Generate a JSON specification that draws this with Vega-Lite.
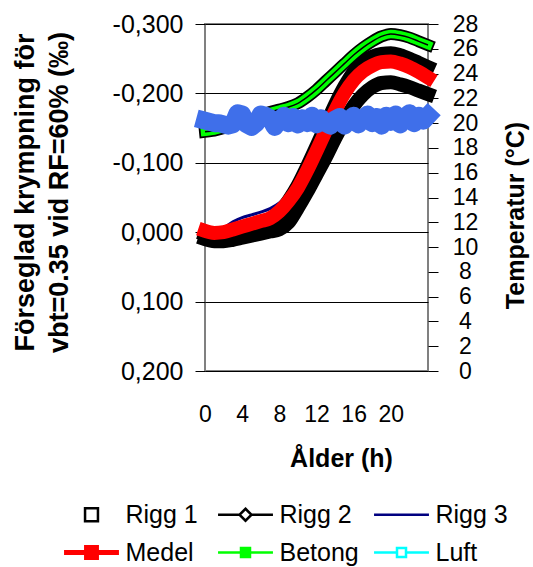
{
  "$schema": "https://vega.github.io/schema/vega-lite/v6.json",
  "width": 223,
  "height": 347,
  "autosize": {"type": "none"},
  "padding": {"left": 205, "top": 24, "right": 105, "bottom": 196},
  "config": {
    "font": "Liberation Sans",
    "view": {"stroke": "#808080", "strokeWidth": 2},
    "axis": {"labelColor": "#000", "titleColor": "#000", "tickColor": "#000", "labelFont": "Liberation Sans", "titleFont": "Liberation Sans"}
  },
  "datasets": {
    "krymp": [
      {"serie":"Rigg 1","t":0,"v":0.010},{"serie":"Rigg 1","t":1,"v":0.013},{"serie":"Rigg 1","t":2,"v":0.013},{"serie":"Rigg 1","t":3,"v":0.011},{"serie":"Rigg 1","t":4,"v":0.008},{"serie":"Rigg 1","t":5,"v":0.005},{"serie":"Rigg 1","t":6,"v":0.002},{"serie":"Rigg 1","t":7,"v":-0.001},{"serie":"Rigg 1","t":8,"v":-0.004},{"serie":"Rigg 1","t":9,"v":-0.014},{"serie":"Rigg 1","t":10,"v":-0.035},{"serie":"Rigg 1","t":11,"v":-0.058},{"serie":"Rigg 1","t":12,"v":-0.083},{"serie":"Rigg 1","t":13,"v":-0.108},{"serie":"Rigg 1","t":14,"v":-0.135},{"serie":"Rigg 1","t":15,"v":-0.160},{"serie":"Rigg 1","t":16,"v":-0.182},{"serie":"Rigg 1","t":17,"v":-0.198},{"serie":"Rigg 1","t":18,"v":-0.209},{"serie":"Rigg 1","t":19,"v":-0.215},{"serie":"Rigg 1","t":20,"v":-0.216},{"serie":"Rigg 1","t":21,"v":-0.213},{"serie":"Rigg 1","t":22,"v":-0.209},{"serie":"Rigg 1","t":23,"v":-0.204},{"serie":"Rigg 1","t":24,"v":-0.199},
      {"serie":"Rigg 2","t":0,"v":0.003},{"serie":"Rigg 2","t":1,"v":0.006},{"serie":"Rigg 2","t":2,"v":0.006},{"serie":"Rigg 2","t":3,"v":0.002},{"serie":"Rigg 2","t":4,"v":-0.002},{"serie":"Rigg 2","t":5,"v":-0.006},{"serie":"Rigg 2","t":6,"v":-0.010},{"serie":"Rigg 2","t":7,"v":-0.015},{"serie":"Rigg 2","t":8,"v":-0.028},{"serie":"Rigg 2","t":9,"v":-0.046},{"serie":"Rigg 2","t":10,"v":-0.068},{"serie":"Rigg 2","t":11,"v":-0.095},{"serie":"Rigg 2","t":12,"v":-0.124},{"serie":"Rigg 2","t":13,"v":-0.154},{"serie":"Rigg 2","t":14,"v":-0.184},{"serie":"Rigg 2","t":15,"v":-0.210},{"serie":"Rigg 2","t":16,"v":-0.231},{"serie":"Rigg 2","t":17,"v":-0.245},{"serie":"Rigg 2","t":18,"v":-0.253},{"serie":"Rigg 2","t":19,"v":-0.257},{"serie":"Rigg 2","t":20,"v":-0.258},{"serie":"Rigg 2","t":21,"v":-0.255},{"serie":"Rigg 2","t":22,"v":-0.250},{"serie":"Rigg 2","t":23,"v":-0.244},{"serie":"Rigg 2","t":24,"v":-0.238},
      {"serie":"Rigg 3","t":0,"v":-0.003},{"serie":"Rigg 3","t":1,"v":-0.002},{"serie":"Rigg 3","t":2,"v":-0.006},{"serie":"Rigg 3","t":3,"v":-0.015},{"serie":"Rigg 3","t":4,"v":-0.021},{"serie":"Rigg 3","t":5,"v":-0.025},{"serie":"Rigg 3","t":6,"v":-0.029},{"serie":"Rigg 3","t":7,"v":-0.034},{"serie":"Rigg 3","t":8,"v":-0.042},{"serie":"Rigg 3","t":9,"v":-0.055},{"serie":"Rigg 3","t":10,"v":-0.070},{"serie":"Rigg 3","t":11,"v":-0.091},{"serie":"Rigg 3","t":12,"v":-0.117},{"serie":"Rigg 3","t":13,"v":-0.146},{"serie":"Rigg 3","t":14,"v":-0.175},{"serie":"Rigg 3","t":15,"v":-0.199},{"serie":"Rigg 3","t":16,"v":-0.218},{"serie":"Rigg 3","t":17,"v":-0.231},{"serie":"Rigg 3","t":18,"v":-0.239},{"serie":"Rigg 3","t":19,"v":-0.244},{"serie":"Rigg 3","t":20,"v":-0.245},{"serie":"Rigg 3","t":21,"v":-0.242},{"serie":"Rigg 3","t":22,"v":-0.237},{"serie":"Rigg 3","t":23,"v":-0.230},{"serie":"Rigg 3","t":24,"v":-0.222},
      {"serie":"Medel","t":0,"v":-0.002},{"serie":"Medel","t":1,"v":0.001},{"serie":"Medel","t":2,"v":0.000},{"serie":"Medel","t":3,"v":-0.004},{"serie":"Medel","t":4,"v":-0.008},{"serie":"Medel","t":5,"v":-0.012},{"serie":"Medel","t":6,"v":-0.016},{"serie":"Medel","t":7,"v":-0.020},{"serie":"Medel","t":8,"v":-0.030},{"serie":"Medel","t":9,"v":-0.045},{"serie":"Medel","t":10,"v":-0.064},{"serie":"Medel","t":11,"v":-0.089},{"serie":"Medel","t":12,"v":-0.117},{"serie":"Medel","t":13,"v":-0.146},{"serie":"Medel","t":14,"v":-0.175},{"serie":"Medel","t":15,"v":-0.200},{"serie":"Medel","t":16,"v":-0.219},{"serie":"Medel","t":17,"v":-0.232},{"serie":"Medel","t":18,"v":-0.240},{"serie":"Medel","t":19,"v":-0.245},{"serie":"Medel","t":20,"v":-0.246},{"serie":"Medel","t":21,"v":-0.243},{"serie":"Medel","t":22,"v":-0.238},{"serie":"Medel","t":23,"v":-0.231},{"serie":"Medel","t":24,"v":-0.223}
    ],
    "temp": [
      {"serie":"Betong","t":0,"v":19.3},{"serie":"Betong","t":1,"v":19.4},{"serie":"Betong","t":2,"v":19.6},{"serie":"Betong","t":3,"v":19.8},{"serie":"Betong","t":4,"v":20.0},{"serie":"Betong","t":5,"v":20.3},{"serie":"Betong","t":6,"v":20.6},{"serie":"Betong","t":7,"v":20.9},{"serie":"Betong","t":8,"v":21.1},{"serie":"Betong","t":9,"v":21.3},{"serie":"Betong","t":10,"v":21.6},{"serie":"Betong","t":11,"v":22.1},{"serie":"Betong","t":12,"v":22.7},{"serie":"Betong","t":13,"v":23.4},{"serie":"Betong","t":14,"v":24.1},{"serie":"Betong","t":15,"v":24.8},{"serie":"Betong","t":16,"v":25.5},{"serie":"Betong","t":17,"v":26.1},{"serie":"Betong","t":18,"v":26.6},{"serie":"Betong","t":19,"v":27.0},{"serie":"Betong","t":20,"v":27.2},{"serie":"Betong","t":21,"v":27.1},{"serie":"Betong","t":22,"v":26.9},{"serie":"Betong","t":23,"v":26.6},{"serie":"Betong","t":24,"v":26.3},
      {"serie":"Luft","t":0,"v":20.2},{"serie":"Luft","t":0.5,"v":20.1},{"serie":"Luft","t":1,"v":20.0},{"serie":"Luft","t":1.5,"v":20.0},{"serie":"Luft","t":2,"v":19.9},{"serie":"Luft","t":2.5,"v":19.8},{"serie":"Luft","t":3,"v":19.9},{"serie":"Luft","t":3.5,"v":20.8},{"serie":"Luft","t":4,"v":20.7},{"serie":"Luft","t":4.5,"v":19.9},{"serie":"Luft","t":5,"v":19.7},{"serie":"Luft","t":5.5,"v":20.0},{"serie":"Luft","t":6,"v":20.7},{"serie":"Luft","t":6.5,"v":20.6},{"serie":"Luft","t":7,"v":20.4},{"serie":"Luft","t":7.5,"v":19.7},{"serie":"Luft","t":8,"v":20.2},{"serie":"Luft","t":8.5,"v":20.6},{"serie":"Luft","t":9,"v":20.0},{"serie":"Luft","t":9.5,"v":20.5},{"serie":"Luft","t":10,"v":19.9},{"serie":"Luft","t":10.5,"v":20.4},{"serie":"Luft","t":11,"v":20.0},{"serie":"Luft","t":11.5,"v":20.6},{"serie":"Luft","t":12,"v":19.9},{"serie":"Luft","t":12.5,"v":20.4},{"serie":"Luft","t":13,"v":20.0},{"serie":"Luft","t":13.5,"v":19.8},{"serie":"Luft","t":14,"v":20.3},{"serie":"Luft","t":14.5,"v":20.5},{"serie":"Luft","t":15,"v":19.8},{"serie":"Luft","t":15.5,"v":20.2},{"serie":"Luft","t":16,"v":20.6},{"serie":"Luft","t":16.5,"v":19.9},{"serie":"Luft","t":17,"v":20.3},{"serie":"Luft","t":17.5,"v":20.7},{"serie":"Luft","t":18,"v":20.0},{"serie":"Luft","t":18.5,"v":20.5},{"serie":"Luft","t":19,"v":19.8},{"serie":"Luft","t":19.5,"v":20.6},{"serie":"Luft","t":20,"v":20.1},{"serie":"Luft","t":20.5,"v":20.7},{"serie":"Luft","t":21,"v":19.9},{"serie":"Luft","t":21.5,"v":20.5},{"serie":"Luft","t":22,"v":20.8},{"serie":"Luft","t":22.5,"v":20.0},{"serie":"Luft","t":23,"v":20.6},{"serie":"Luft","t":23.5,"v":20.2},{"serie":"Luft","t":24,"v":20.6}
    ],
    "xticks": [{"t":0},{"t":2},{"t":4},{"t":6},{"t":8},{"t":10},{"t":12},{"t":14},{"t":16},{"t":18},{"t":20},{"t":22},{"t":24}],
    "yticks": [{"v":0},{"v":2},{"v":4},{"v":6},{"v":8},{"v":10},{"v":12},{"v":14},{"v":16},{"v":18},{"v":20},{"v":22},{"v":24},{"v":26},{"v":28}]
  },
  "encoding": {
    "x": {
      "field": "t", "type": "quantitative",
      "scale": {"domain": [0, 24], "nice": false, "zero": false},
      "axis": {
        "values": [0, 4, 8, 12, 16, 20], "grid": false, "domain": false, "ticks": false,
        "labelPadding": 32, "labelFontSize": 23, "labelFlush": false,
        "title": "Ålder (h)", "titleFontSize": 25, "titleFontWeight": "bold", "titlePadding": 20, "titleX": 136
      }
    },
    "color": {
      "field": "serie", "type": "nominal",
      "scale": {"domain": ["Rigg 1", "Medel", "Rigg 2", "Betong", "Rigg 3", "Luft"], "range": ["#000000", "#ff0000", "#000000", "#00ff00", "#000080", "#00ffff"]},
      "legend": {
        "orient": "none", "legendX": -126, "legendY": 478, "columns": 3,
        "columnPadding": 0, "rowPadding": 9, "title": null, "symbolSize": 900,
        "labelFontSize": 25, "labelColor": "#000", "labelOffset": 21.5, "labelLimit": 0, "padding": 0,
        "encode": {
          "symbols": {
            "update": {
              "shape": {"signal": "datum.value === 'Rigg 1' ? 'M-0.43,-0.43H0.43V0.43H-0.43ZM7.37,0' : datum.value === 'Rigg 2' ? 'M-1.83,0H-0.4M0.4,0H1.83M0,-0.4L0.4,0L0,0.4L-0.4,0ZM7.84,0' : datum.value === 'Rigg 3' ? 'M-1.83,0H1.83' : datum.value === 'Medel' ? 'M-1.83,0H1.83M-0.33,-0.33H0.33V0.33H-0.33ZM7.37,0' : datum.value === 'Betong' ? 'M-1.83,0H1.83M-0.3,-0.3H0.3V0.3H-0.3ZM7.84,0' : 'M-1.83,0H-0.3M0.3,0H1.83M-0.3,-0.3H0.3V0.3H-0.3Z'"},
              "stroke": {"signal": "datum.value === 'Rigg 3' ? '#000080' : datum.value === 'Medel' ? '#ff0000' : datum.value === 'Betong' ? '#00ff00' : datum.value === 'Luft' ? '#00ffff' : '#000000'"},
              "fill": {"signal": "datum.value === 'Medel' ? '#ff0000' : datum.value === 'Betong' ? '#00ff00' : '#ffffff'"},
              "strokeWidth": {"signal": "datum.value === 'Medel' ? 5 : 2.5"},
              "opacity": {"value": 1}
            }
          }
        }
      }
    }
  },
  "layer": [
    {
      "encoding": {
        "y": {
          "field": "v", "type": "quantitative",
          "scale": {"domain": [-0.3, 0.2], "reverse": true, "nice": false, "zero": false},
          "axis": {
            "orient": "left", "values": [-0.3, -0.2, -0.1, 0, 0.1, 0.2], "format": ".3f",
            "labelExpr": "replace(replace(datum.label, '.', ','), '−', '-')",
            "grid": true, "gridColor": "#000", "gridOpacity": 1, "gridWidth": 1,
            "domain": false, "tickSize": 10, "labelPadding": 12, "labelFontSize": 25,
            "title": ["Förseglad krympning för", "vbt=0.35 vid RF=60% (‰)"],
            "titleFontSize": 27, "titleFontWeight": "bold", "titleLineHeight": 34,
            "titleX": -166, "titleY": 168, "titleBaseline": "bottom", "titleAngle": -90
          }
        }
      },
      "layer": [
        {
          "data": {"name": "xticks"},
          "mark": {"type": "rule", "strokeWidth": 1},
          "encoding": {"y": {"datum": 0}, "y2": {"datum": -0.012}, "color": {"value": "#000"}}
        },
        {
          "data": {"name": "krymp"},
          "transform": [{"filter": "datum.serie === 'Rigg 1'"}],
          "mark": {"type": "line", "strokeWidth": 14, "interpolate": "monotone", "strokeCap": "square", "strokeJoin": "round"}
        },
        {
          "data": {"name": "krymp"},
          "transform": [{"filter": "datum.serie === 'Rigg 2'"}],
          "mark": {"type": "line", "strokeWidth": 14, "interpolate": "monotone", "strokeCap": "square", "strokeJoin": "round"}
        },
        {
          "data": {"name": "krymp"},
          "transform": [{"filter": "datum.serie === 'Rigg 3'"}],
          "mark": {"type": "line", "strokeWidth": 3, "interpolate": "monotone"}
        },
        {
          "data": {"name": "krymp"},
          "transform": [{"filter": "datum.serie === 'Medel'"}],
          "mark": {"type": "line", "strokeWidth": 14, "interpolate": "monotone", "strokeCap": "square", "strokeJoin": "round"}
        }
      ]
    },
    {
      "encoding": {
        "y": {
          "field": "v", "type": "quantitative",
          "scale": {"domain": [0, 28], "nice": false},
          "axis": {
            "orient": "right", "values": [0, 2, 4, 6, 8, 10, 12, 14, 16, 18, 20, 22, 24, 26, 28],
            "grid": false, "domain": false, "tickSize": 10, "labelPadding": 27, "labelAlign": "center",
            "labelFontSize": 23, "labelFlush": false,
            "title": "Temperatur (°C)", "titleFontSize": 25, "titleFontWeight": "bold",
            "titleAngle": -90, "titleBaseline": "top", "titlePadding": 26, "titleY": 191
          }
        }
      },
      "layer": [
        {
          "data": {"name": "yticks"},
          "mark": {"type": "rule", "strokeWidth": 1},
          "encoding": {"x": {"datum": 23.25}, "x2": {"datum": 24}, "color": {"value": "#000"}}
        },
        {
          "data": {"name": "temp"},
          "transform": [{"filter": "datum.serie === 'Betong'"}],
          "mark": {"type": "line", "strokeWidth": 12, "interpolate": "monotone", "strokeCap": "square"},
          "encoding": {"color": {"value": "#000"}}
        },
        {
          "data": {"name": "temp"},
          "transform": [{"filter": "datum.serie === 'Betong'"}],
          "mark": {"type": "line", "strokeWidth": 8.5, "interpolate": "monotone", "strokeCap": "square"}
        },
        {
          "data": {"name": "temp"},
          "transform": [{"filter": "datum.serie === 'Betong'"}],
          "mark": {"type": "line", "strokeWidth": 1.5, "interpolate": "monotone"},
          "encoding": {"color": {"value": "#000"}}
        },
        {
          "data": {"name": "temp"},
          "transform": [{"filter": "datum.serie === 'Luft'"}],
          "mark": {"type": "line", "strokeWidth": 18, "strokeCap": "square", "strokeJoin": "round"},
          "encoding": {"color": {"value": "#3f6fea"}}
        }
      ]
    }
  ],
  "resolve": {"scale": {"y": "independent"}}
}
